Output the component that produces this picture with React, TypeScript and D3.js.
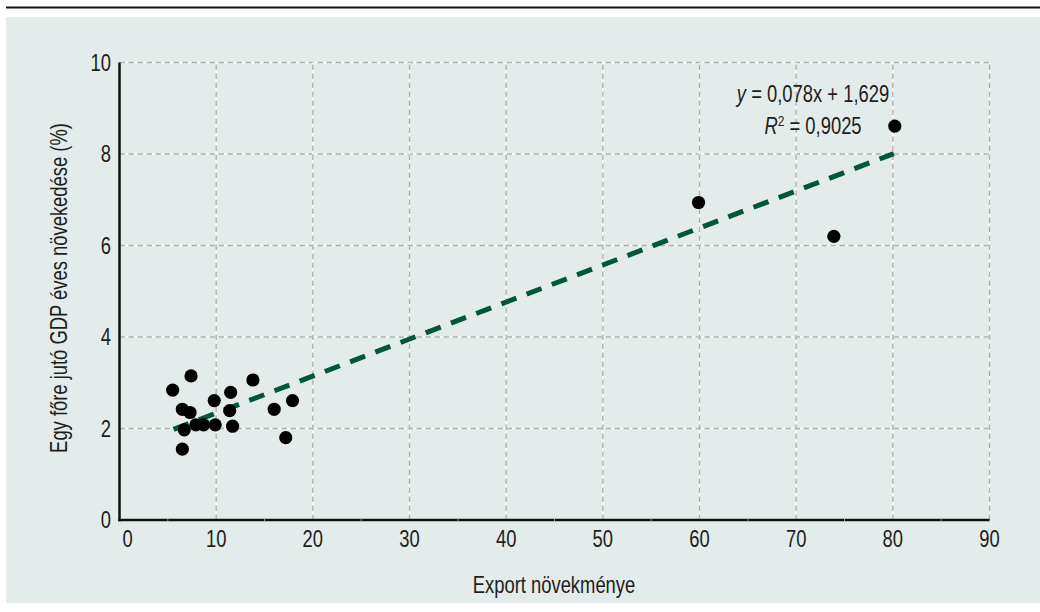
import React from "react";
import * as d3 from "d3";

const exportGrowth = [7.4, 5.5, 13.8, 6.5, 7.3, 9.8, 11.5, 11.4, 16.0, 17.9, 6.7, 7.9, 8.7, 9.9, 11.7, 17.2, 6.5, 59.9, 73.9, 80.2];
const gdpGrowth = [3.15, 2.84, 3.06, 2.42, 2.35, 2.61, 2.79, 2.39, 2.42, 2.61, 1.97, 2.08, 2.08, 2.08, 2.05, 1.80, 1.55, 6.94, 6.20, 8.61];
const trendX = [5.6, 80.1];
const trendY = [1.98, 8.01];
const xTicks = [0, 10, 20, 30, 40, 50, 60, 70, 80, 90];
const xMinorTicks = [5, 15, 25, 35, 45, 55, 65, 75, 85];
const yTicks = [0, 2, 4, 6, 8, 10];
const xTitle = "Export növekménye";
const yTitle = "Egy főre jutó GDP éves növekedése (%)";

const FONT = "'Liberation Sans', Arial, sans-serif";
const SX = 0.8;
const FS = 23;
const TXT = "#1e1e1e";

function CText(props: { x: number; y: number; anchor?: string; rotate?: number; children: React.ReactNode }) {
  const { x, y, anchor = "start", rotate = 0, children } = props;
  return (
    <text
      transform={`translate(${x},${y}) rotate(${rotate}) scale(${SX},1)`}
      textAnchor={anchor}
      fontSize={FS}
      fill={TXT}
    >
      {children}
    </text>
  );
}

export default function App() {
  const W = 1040, H = 612;
  const x = d3.scaleLinear().domain([0, 90]).range([119.5, 989.5]);
  const y = d3.scaleLinear().domain([0, 10]).range([520, 62.5]);
  const line = d3.line<number>().x((d) => x(trendX[d])).y((d) => y(trendY[d]));
  const pts = exportGrowth.map((v, i) => [v, gdpGrowth[i]]);

  return (
    <svg width={W} height={H} style={{ position: "absolute", left: 0, top: 0, fontFamily: FONT }}>
      <rect x={0} y={0} width={W} height={H} fill="#ffffff" />
      <line x1={6} x2={W} y1={7.5} y2={7.5} stroke="#111" strokeWidth={2} />
      <rect x={6} y={17} width={W - 6} height={586} fill="#e3ecea" />
      {yTicks.filter((t) => t > 0).map((t) => (
        <g key={"gy" + t}>
          <line x1={x(0)} x2={x(90)} y1={y(t)} y2={y(t)} stroke="#ffffff" strokeWidth={1.4} />
          <line x1={x(0)} x2={x(90)} y1={y(t)} y2={y(t)} stroke="#b0b0b0" strokeWidth={1.4} strokeDasharray="5.5,3.5" />
        </g>
      ))}
      {xTicks.filter((t) => t > 0).map((t) => (
        <g key={"gx" + t}>
          <line x1={x(t)} x2={x(t)} y1={y(0)} y2={y(10)} stroke="#ffffff" strokeWidth={1.4} />
          <line x1={x(t)} x2={x(t)} y1={y(0)} y2={y(10)} stroke="#b0b0b0" strokeWidth={1.4} strokeDasharray="5.5,3.5" />
        </g>
      ))}
      <line x1={x(0)} x2={x(0)} y1={y(10)} y2={y(0) + 1.25} stroke="#111" strokeWidth={2.5} />
      <line x1={x(0) - 1.25} x2={x(90)} y1={y(0)} y2={y(0)} stroke="#111" strokeWidth={2.5} />
      {xMinorTicks.map((t) => (
        <line key={"mx" + t} x1={x(t)} x2={x(t)} y1={y(0) - 1.2} y2={y(0) + 1.2} stroke="#9a9a9a" strokeWidth={1} />
      ))}
      <path d={line([0, 1]) || ""} fill="none" stroke="#00573a" strokeWidth={5} strokeDasharray="16,11" />
      {pts.map((p, i) => (
        <circle key={i} cx={x(p[0])} cy={y(p[1])} r={6.6} fill="#000" />
      ))}
      {yTicks.map((t) => (
        <CText key={"ty" + t} x={111} y={y(t) + 8} anchor="end">
          {t}
        </CText>
      ))}
      {xTicks.map((t, i) => (
        <CText key={"tx" + t} x={x(t) + (i === 0 ? 8 : 0)} y={547} anchor="middle">
          {t}
        </CText>
      ))}
      <CText x={554} y={593} anchor="middle">
        {xTitle}
      </CText>
      <CText x={67} y={288} anchor="middle" rotate={-90}>
        {yTitle}
      </CText>
      <CText x={813} y={102} anchor="middle">
        <tspan fontStyle="italic">y</tspan>
        <tspan> = 0,078x + 1,629</tspan>
      </CText>
      <CText x={813} y={134} anchor="middle">
        <tspan fontStyle="italic">R</tspan>
        <tspan fontSize={15} dy={-8}>2</tspan>
        <tspan dy={8}> = 0,9025</tspan>
      </CText>
    </svg>
  );
}
